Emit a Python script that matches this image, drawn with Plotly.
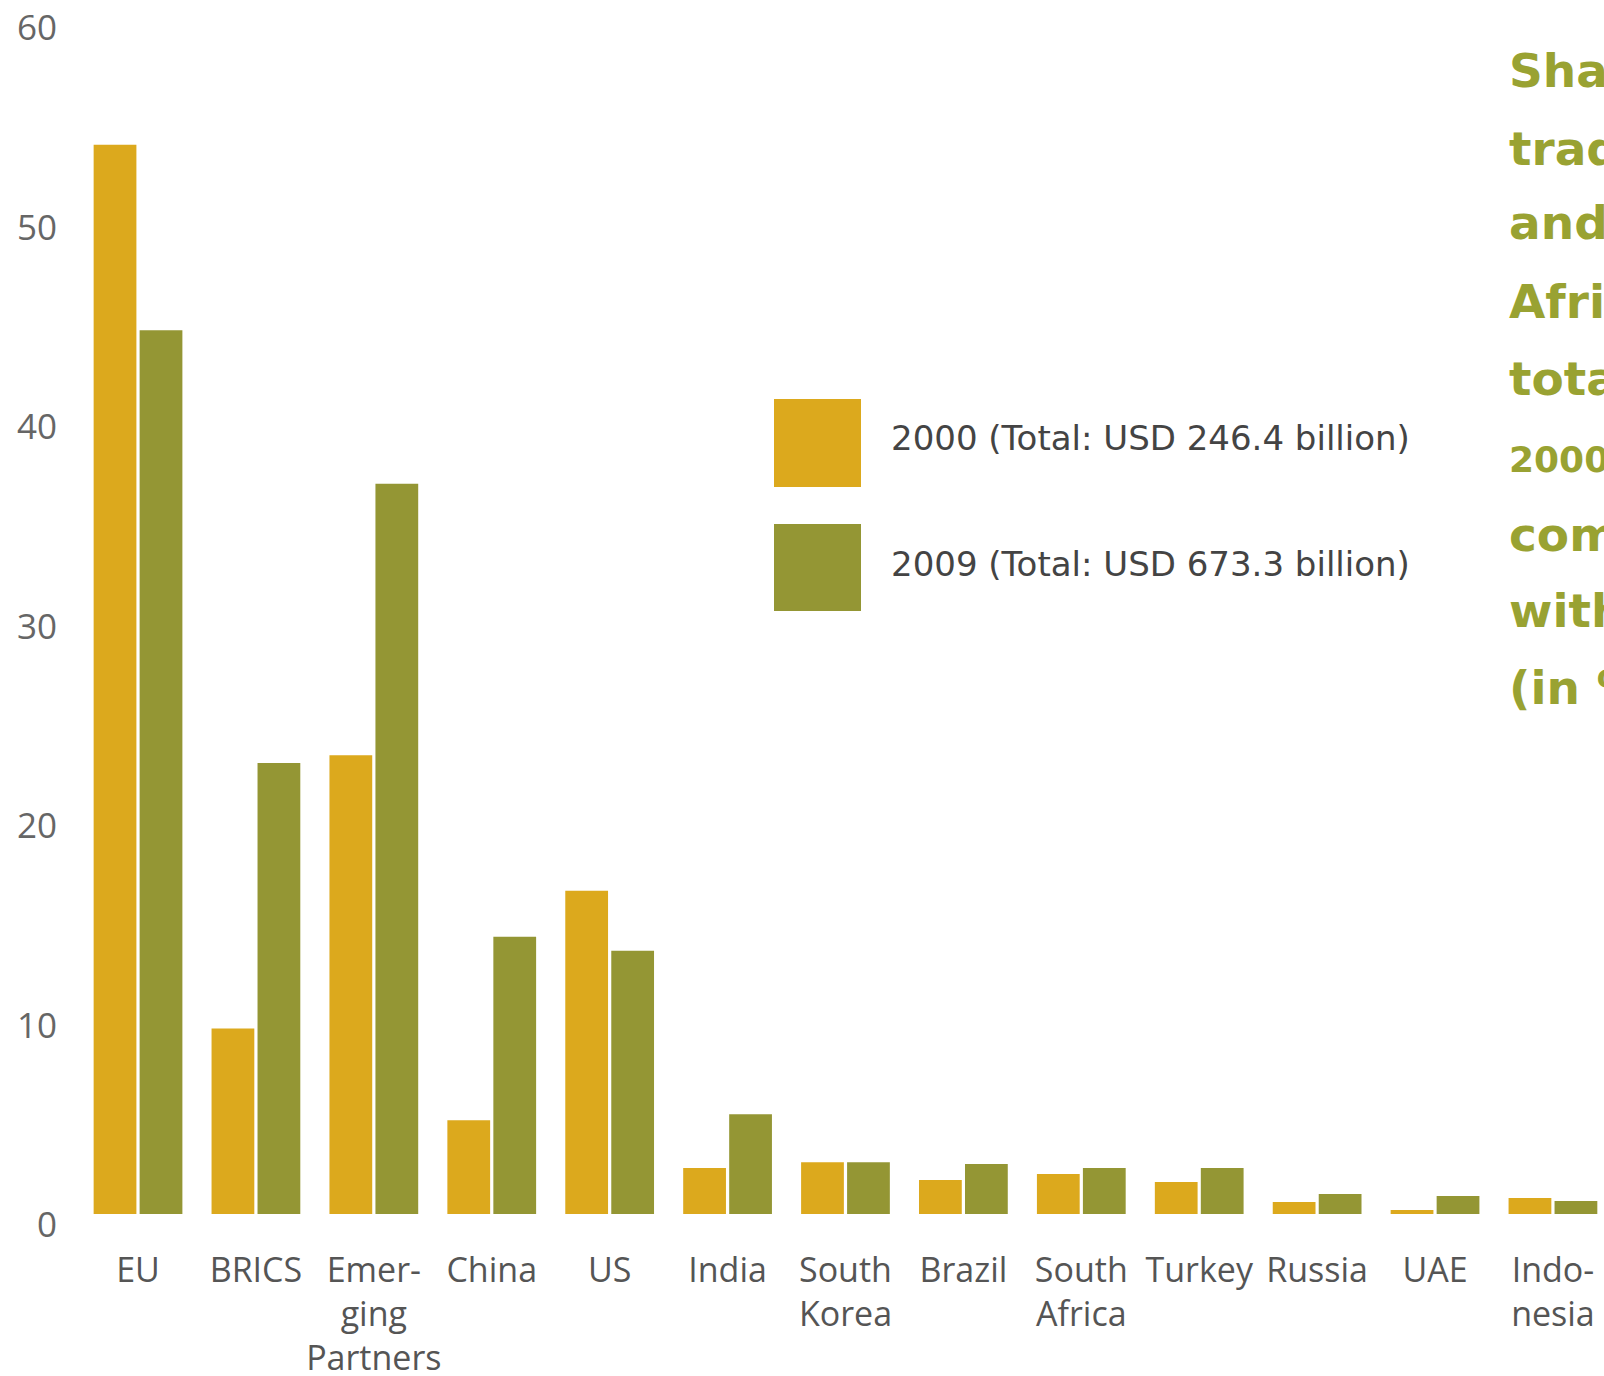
import plotly.graph_objects as go

categories = ["EU", "BRICS", "Emer-<br>ging<br>Partners", "China", "US", "India",
              "South<br>Korea", "Brazil", "South<br>Africa", "Turkey", "Russia", "UAE",
              "Indo-<br>nesia"]
share_2000 = [53.6, 9.3, 23.0, 4.7, 16.2, 2.3, 2.6, 1.7, 2.0, 1.6, 0.6, 0.2, 0.8]
share_2009 = [44.3, 22.6, 36.6, 13.9, 13.2, 5.0, 2.6, 2.5, 2.3, 2.3, 1.0, 0.9, 0.65]
series_names = ["2000 (Total: USD 246.4 billion)", "2009 (Total: USD 673.3 billion)"]
y_ticks = [0, 10, 20, 30, 40, 50, 60]
title_lines = ["Share", "trade", "and", "Africa's", "total", "2000", "compared", "with", "(in %)"]

W, H = 1604, 1376
L, R, T, B = 80, 0, 0, 162
PW, PH = W - L - R, H - T - B

def px_x(p):
    return (p - L) / PW

def px_y(p):
    return (H - B - p) / PH

C2000 = "#DCA91D"
C2009 = "#949634"
TITLE_C = "#99A232"

fig = go.Figure()
fig.add_trace(go.Bar(x=list(range(len(categories))), y=share_2000, name=series_names[0],
                     marker=dict(color=C2000, line=dict(width=0))))
fig.add_trace(go.Bar(x=list(range(len(categories))), y=share_2009, name=series_names[1],
                     marker=dict(color=C2009, line=dict(width=0))))

fig.update_layout(
    width=W, height=H,
    margin=dict(l=L, r=R, t=T, b=B, pad=0, autoexpand=False),
    paper_bgcolor="white", plot_bgcolor="white",
    barmode="group", bargap=0.22, bargroupgap=0.07,
    showlegend=False,
    font=dict(family="Open Sans", color="#555555"),
)
fig.update_xaxes(
    range=[-0.492, 12.433],
    tickmode="array", tickvals=list(range(len(categories))), ticktext=categories,
    tickfont=dict(size=34, color="#555555"), tickangle=0, automargin=False,
    showgrid=False, zeroline=False, showline=False, ticks="",
    ticklabelstandoff=33,
)
fig.update_yaxes(
    range=[0, 60.85],
    tickmode="array", tickvals=y_ticks, ticktext=[str(v) for v in y_ticks],
    tickfont=dict(size=35, color="#666666"), automargin=False,
    showgrid=False, zeroline=False, showline=False, ticks="",
    ticklabelstandoff=22, ticklabelshift=11,
)

# Legend drawn as large swatches
legend_rows = [(399, 487, 438, C2000, series_names[0]),
               (524, 611, 564, C2009, series_names[1])]
for top, bot, mid, col, txt in legend_rows:
    fig.add_shape(type="rect", xref="paper", yref="paper",
                  x0=px_x(774), x1=px_x(861), y0=px_y(bot), y1=px_y(top),
                  fillcolor=col, line=dict(width=0))
    fig.add_annotation(xref="paper", yref="paper", x=px_x(889), y=px_y(mid),
                       text=txt, showarrow=False, xanchor="left", yanchor="middle",
                       font=dict(size=34, color="#444444", family="DejaVu Sans"))

# Title block at right (cropped by the page edge, as in the source)
title_y = [70, 148, 223, 302, 378, 460, 534, 611, 687]
for i, (line, yy) in enumerate(zip(title_lines, title_y)):
    size = 36 if i == 5 else 47
    fig.add_annotation(xref="paper", yref="paper", x=px_x(1507), y=px_y(yy),
                       text="<b>" + line + "</b>", showarrow=False,
                       xanchor="left", yanchor="middle",
                       font=dict(size=size, color=TITLE_C, family="DejaVu Sans"))

fig.write_html("out.html")
